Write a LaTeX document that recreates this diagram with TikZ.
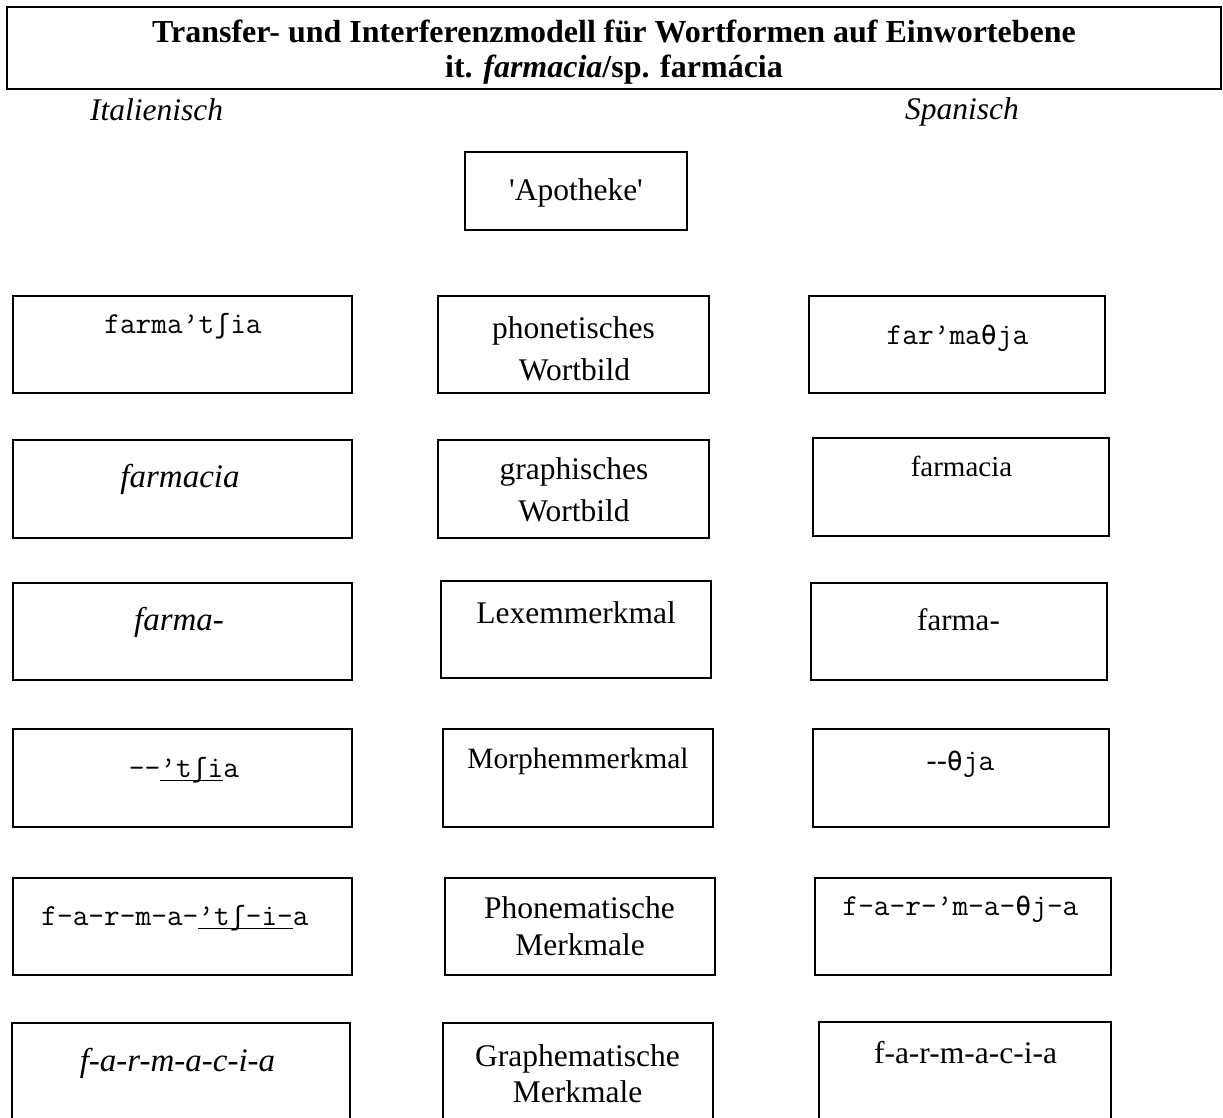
\documentclass[tikz,border=0pt]{standalone}
\usepackage{fontspec}
\setmainfont{Liberation Serif}
\newfontfamily\ipafont[Scale=0.87]{DejaVu Sans Mono}

% IPA glyphs taken from a font that has them
\newcommand{\esh}{{\ipafont ʃ}}
\newcommand{\thet}{{\ipafont θ}}
% underline at a fixed depth below the baseline
\newsavebox\ulbx
\newcommand\ipaunder[1]{\sbox\ulbx{#1}\rlap{\rule[-4pt]{\wd\ulbx}{1.1pt}}\usebox\ulbx}

\tikzset{
  box/.style={draw, line width=2.5pt, inner sep=0pt, outer sep=0pt},
  txt/.style={anchor=base, inner sep=0pt, font=\fontsize{31.5}{38}\selectfont},
  mono/.style={anchor=base, inner sep=0pt, font=\fontsize{30.5}{36}\selectfont\ttfamily},
  ital/.style={anchor=base, inner sep=0pt, font=\fontsize{33}{40}\selectfont\itshape},
  head/.style={anchor=base, inner sep=0pt, font=\fontsize{32}{38}\selectfont\bfseries},
}

\begin{document}
\begin{tikzpicture}[x=1pt,y=-1pt]
\path[use as bounding box] (0,0) rectangle (1223,1117);
\clip (0,0) rectangle (1223,1117);

% heading
\node[box, line width=2.8pt, minimum width=1214pt, minimum height=82pt] (T) at (614,48) {};
\node[head] (T1) at (614,42) {Transfer- und Interferenzmodell für Wortformen auf Einwortebene};
\node[head] (T2) at (614,77) {it. \textit{farmacia}/sp. farmácia};

\node[txt, font=\fontsize{31.5}{38}\selectfont\itshape] (it) at (156.5,120) {Italienisch};
\node[txt, font=\fontsize{31.5}{38}\selectfont\itshape] (sp) at (962,119) {Spanisch};

% meaning
\node[box, minimum width=222pt, minimum height=78pt] (A) at (576,191) {};
\node[txt] (At) at (576,200) {\textquotesingle Apotheke\textquotesingle};

% Italian column
\node[box, minimum width=339pt, minimum height=97pt] (L1) at (182.5,344.5) {};
\node[box, minimum width=339pt, minimum height=98pt] (L2) at (182.5,489) {};
\node[box, minimum width=339pt, minimum height=97pt] (L3) at (182.5,631.5) {};
\node[box, minimum width=339pt, minimum height=98pt] (L4) at (182.5,778) {};
\node[box, minimum width=339pt, minimum height=97pt] (L5) at (182.5,926.5) {};
\node[box, minimum width=338pt, minimum height=127pt] (L6) at (181,1086.5) {};

\node[mono] (L1t) at (183,333) {farma’t\esh ia};
\node[ital] (L2t) at (180,487) {farmacia};
\node[ital] (L3t) at (179,630) {farma-};
\node[mono] (L4t) at (184,777) {-\kern0pt-\ipaunder{’t\esh i}a};
\node[mono] (L5t) at (175,925) {f-a-r-m-a-\ipaunder{’t\esh-i-}a};
\node[ital] (L6t) at (177.5,1071) {f-a-r-m-a-c-i-a};

% feature column
\node[box, minimum width=271pt, minimum height=97pt] (M1) at (573.5,344.5) {};
\node[box, minimum width=271pt, minimum height=98pt] (M2) at (573.5,489) {};
\node[box, minimum width=270pt, minimum height=97pt] (M3) at (576,629.5) {};
\node[box, minimum width=270pt, minimum height=98pt] (M4) at (578,778) {};
\node[box, minimum width=270pt, minimum height=97pt] (M5) at (580,926.5) {};
\node[box, minimum width=270pt, minimum height=127pt] (M6) at (578,1086.5) {};

\node[txt] (M1a) at (573.5,338) {phonetisches};
\node[txt] (M1b) at (574.5,380) {Wortbild};
\node[txt] (M2a) at (574,479) {graphisches};
\node[txt] (M2b) at (574,521) {Wortbild};
\node[txt] (M3t) at (576,623) {Lexemmerkmal};
\node[txt, font=\fontsize{29.5}{36}\selectfont] (M4t) at (578,768) {Morphemmerkmal};
\node[txt] (M5a) at (579.5,918) {Phonematische};
\node[txt] (M5b) at (580,955) {Merkmale};
\node[txt] (M6a) at (577.5,1066) {Graphematische};
\node[txt] (M6b) at (577.7,1102) {Merkmale};

% Spanish column
\node[box, minimum width=296pt, minimum height=97pt] (R1) at (957,344.5) {};
\node[box, minimum width=296pt, minimum height=98pt] (R2) at (961,487) {};
\node[box, minimum width=296pt, minimum height=97pt] (R3) at (959,631.5) {};
\node[box, minimum width=296pt, minimum height=98pt] (R4) at (961,778) {};
\node[box, minimum width=296pt, minimum height=97pt] (R5) at (963,926.5) {};
\node[box, minimum width=292pt, minimum height=128pt] (R6) at (965,1086) {};

\node[mono] (R1t) at (957.5,344) {far’ma\thet ja};
\node[txt, font=\fontsize{29}{35}\selectfont] (R2t) at (961.5,476) {farmacia};
\node[txt, font=\fontsize{31}{37}\selectfont] (R3t) at (958.5,630) {farma-};
\node[mono] (R4t) at (960.5,770) {{\rmfamily -\kern0pt-}\thet ja};
\node[mono] (R5t) at (960.5,915) {f-a-r-’m-a-\thet j-a};
\node[txt] (R6t) at (965.5,1063) {f-a-r-m-a-c-i-a};
\end{tikzpicture}
\end{document}
